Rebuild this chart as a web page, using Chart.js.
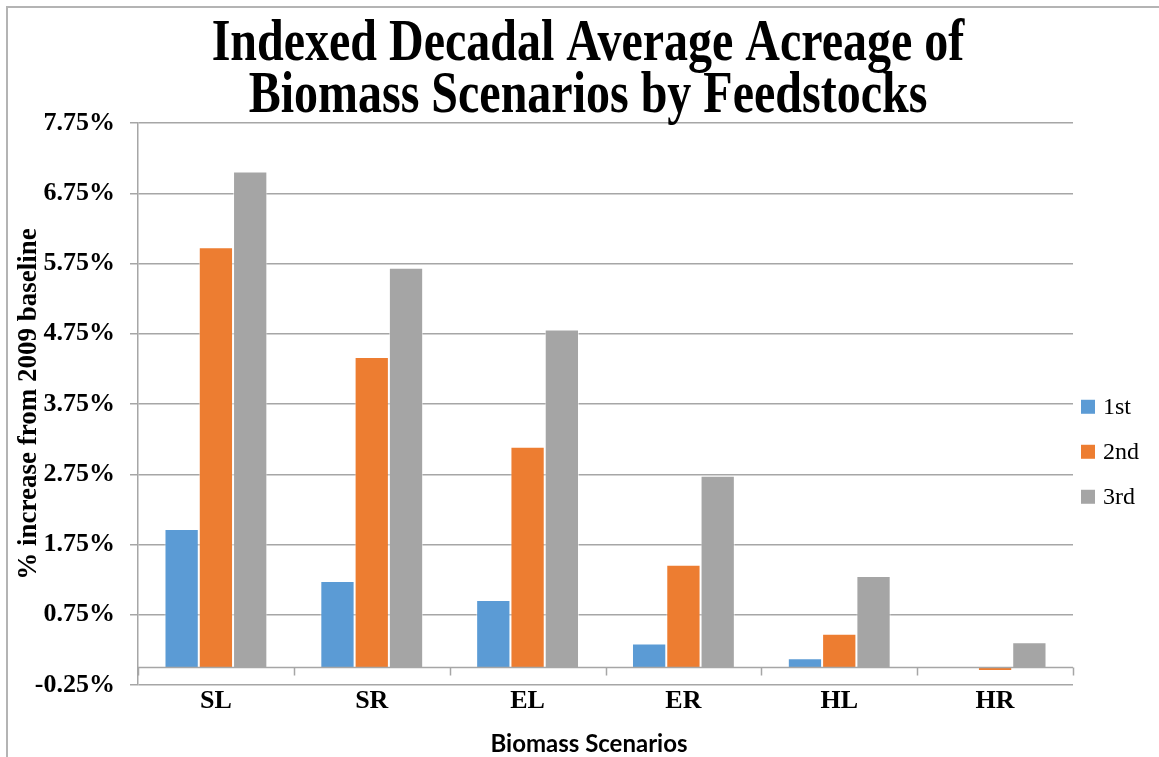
<!DOCTYPE html>
<html>
<head>
<meta charset="utf-8">
<title>Indexed Decadal Average Acreage of Biomass Scenarios by Feedstocks</title>
<script src="https://cdn.jsdelivr.net/npm/chart.js@4"></script>
<style>
  html, body { margin: 0; padding: 0; background: #ffffff; }
  #wrap { width: 1159px; height: 757px; position: relative; }
</style>
</head>
<body>
<div id="wrap"><canvas id="chart" width="1159" height="757"></canvas></div>
<script>
// Scenario categories and series values (% increase from 2009 baseline)
const scenarios = ['SL', 'SR', 'EL', 'ER', 'HL', 'HR'];
const seriesNames = ['1st', '2nd', '3rd'];
const firstValues  = [1.97, 1.23, 0.96, 0.34, 0.13, 0.00];
const secondValues = [5.98, 4.42, 3.14, 1.46, 0.48, -0.05];
const thirdValues  = [7.06, 5.69, 4.81, 2.73, 1.30, 0.36];
const seriesColors = ['#5B9BD5', '#ED7D31', '#A5A5A5'];

// Axis range and tick step
const yMin = -0.25;
const yMax = 7.75;
const yStep = 1;

const titleLines = ['Indexed Decadal Average Acreage of', 'Biomass Scenarios by Feedstocks'];
const yTitle = '% increase from 2009 baseline';
const xTitle = 'Biomass Scenarios';

const GRID = '#a6a6a6';
const SERIF = '"Liberation Serif", "Times New Roman", serif';
const SANS = 'Lato, "Open Sans", sans-serif';
const TEXT_CENTER_X = 588;

// Frame, titles, zero line, category ticks and legend
const decorations = {
  id: 'decorations',
  beforeDraw(chart) {
    const ctx = chart.ctx;
    ctx.save();
    ctx.strokeStyle = '#b4b4b4';
    ctx.lineWidth = 2;
    ctx.beginPath();
    ctx.moveTo(7, chart.height);
    ctx.lineTo(7, 7);
    ctx.lineTo(chart.width, 7);
    ctx.stroke();
    ctx.restore();
  },
  afterDatasetsDraw(chart) {
    const ctx = chart.ctx;
    const area = chart.chartArea;
    const x = chart.scales.x;
    const y = chart.scales.y;
    const y0 = Math.round(y.getPixelForValue(0)) + 0.5;
    ctx.save();
    ctx.strokeStyle = GRID;
    ctx.lineWidth = 1.5;
    ctx.beginPath();
    ctx.moveTo(area.left, y0);
    ctx.lineTo(area.right, y0);
    // category boundary ticks hanging below the zero line
    const n = scenarios.length;
    for (let i = 0; i <= n; i++) {
      let bx;
      if (i === 0) bx = area.left;
      else if (i === n) bx = area.right;
      else bx = (x.getPixelForValue(i - 1) + x.getPixelForValue(i)) / 2;
      bx = Math.round(bx) + 0.5;
      ctx.moveTo(bx, y0);
      ctx.lineTo(bx, y0 + 8);
    }
    ctx.stroke();
    ctx.restore();
  },
  afterDraw(chart) {
    const ctx = chart.ctx;
    const area = chart.chartArea;
    ctx.save();
    // chart title, slightly stretched vertically
    ctx.fillStyle = '#000000';
    ctx.font = 'bold 48px ' + SERIF;
    ctx.textAlign = 'center';
    ctx.textBaseline = 'alphabetic';
    const baselines = [60, 112];
    titleLines.forEach((line, i) => {
      ctx.save();
      ctx.translate(TEXT_CENTER_X, baselines[i]);
      ctx.scale(1, 1.22);
      ctx.fillText(line, 0, 0);
      ctx.restore();
    });

    // category axis title
    ctx.font = 'bold 24px ' + SANS;
    ctx.textBaseline = 'middle';
    ctx.fillText(xTitle, TEXT_CENTER_X + 1, chart.height - 13);

    // legend
    const lx = area.right + 8;
    const midY = area.top + (area.bottom - area.top) * 0.585;
    ctx.font = '24px ' + SERIF;
    ctx.textAlign = 'left';
    ctx.textBaseline = 'middle';
    chart.data.datasets.forEach((ds, i) => {
      const cy = midY + (i - 1) * 45;
      ctx.fillStyle = ds.backgroundColor;
      ctx.fillRect(lx, cy - 7, 14, 14);
      ctx.fillStyle = '#000000';
      ctx.fillText(ds.label, lx + 22, cy + 1);
    });
    ctx.restore();
  }
};

const seriesValues = [firstValues, secondValues, thirdValues];

new Chart(document.getElementById('chart'), {
  type: 'bar',
  data: {
    labels: scenarios,
    datasets: seriesNames.map((name, i) => ({
      label: name,
      data: seriesValues[i],
      backgroundColor: seriesColors[i],
      borderColor: 'rgba(255,255,255,0.55)',
      borderWidth: 1,
      categoryPercentage: 0.66,
      barPercentage: 1.0
    }))
  },
  options: {
    responsive: false,
    animation: false,
    events: [],
    layout: { padding: { left: 10, right: 86, top: 123, bottom: 0 } },
    plugins: {
      legend: { display: false },
      title: { display: false },
      tooltip: { enabled: false }
    },
    scales: {
      x: {
        type: 'category',
        grid: { display: false, drawTicks: false },
        border: { display: false },
        ticks: {
          color: '#000000',
          padding: 1,
          font: { family: SERIF, size: 26, weight: 'bold' }
        },
        title: { display: false },
        afterFit(scale) { scale.height = 72; }
      },
      y: {
        min: yMin,
        max: yMax,
        grid: {
          color: GRID,
          lineWidth: 1.5,
          drawTicks: true,
          tickLength: 8,
          tickColor: GRID
        },
        border: { display: true, color: GRID, width: 1.5 },
        ticks: {
          stepSize: yStep,
          color: '#000000',
          padding: 15,
          font: { family: SERIF, size: 26, weight: 'bold' },
          callback: (v) => v.toFixed(2) + '%'
        },
        title: {
          display: true,
          text: yTitle,
          color: '#000000',
          padding: { top: 6, bottom: 0 },
          font: { family: SERIF, size: 27, weight: 'bold', lineHeight: 1.0 }
        },
        afterFit(scale) { scale.width = 128; }
      }
    }
  },
  plugins: [decorations]
});
</script>
</body>
</html>
